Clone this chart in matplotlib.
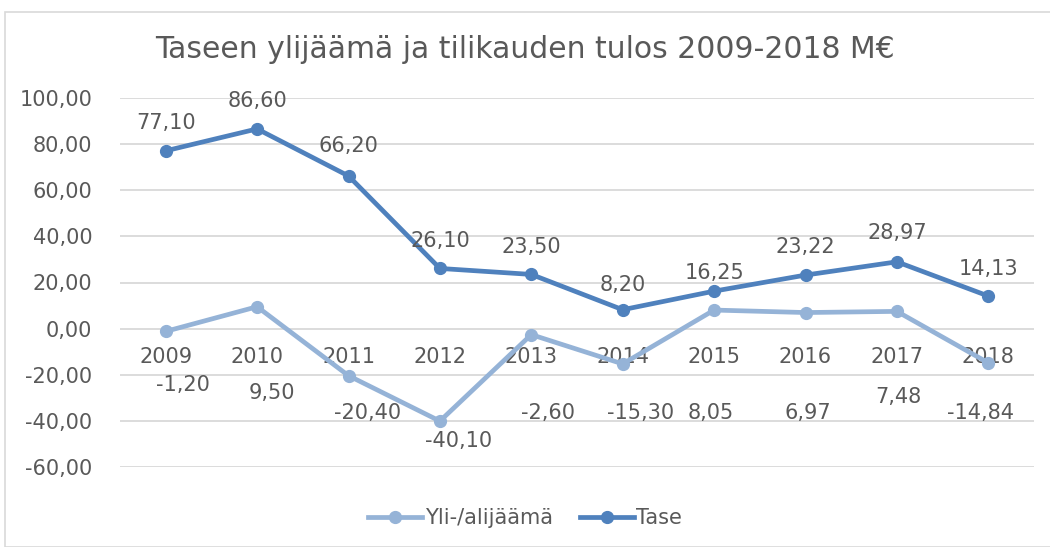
import matplotlib
matplotlib.use("Agg")
import matplotlib.pyplot as plt
from matplotlib.patches import Rectangle

years = ["2009", "2010", "2011", "2012", "2013", "2014", "2015", "2016", "2017", "2018"]
yli = [-1.20, 9.50, -20.40, -40.10, -2.60, -15.30, 8.05, 6.97, 7.48, -14.84]
tase = [77.10, 86.60, 66.20, 26.10, 23.50, 8.20, 16.25, 23.22, 28.97, 14.13]

# label placement (x offset in categories, y in data units), hand-tuned like the original
yli_lbl_dx = [0.19, 0.16, 0.21, 0.20, 0.18, 0.19, -0.04, 0.03, 0.02, -0.08]
yli_lbl_y = [-24.3, -27.8, -36.4, -48.6, -36.4, -36.4, -36.4, -36.4, -29.5, -36.4]
tase_lbl_y = [89.3, 98.9, 79.4, 38.2, 35.6, 19.1, 24.3, 35.6, 41.6, 26.0]

def fmt(v):
    return f"{v:.2f}".replace(".", ",")

txt = "#595959"
light = "#95B3D7"
dark = "#4F81BD"

plt.rcParams["font.family"] = ["DejaVu Sans"]
fig = plt.figure(figsize=(10.5, 5.47), dpi=100)
fig.patches.append(Rectangle((5 / 1050, 0), 1.1, 1 - 12 / 547, transform=fig.transFigure,
                             fill=False, edgecolor="#D9D9D9", linewidth=1.2))
ax = fig.add_axes([120 / 1050, 1 - 467 / 547, 914 / 1050, 369 / 547])

x = range(len(years))
ax.plot(x, yli, color=light, lw=3.4, marker="o", ms=8.5, label="Yli-/alijäämä", zorder=3)
ax.plot(x, tase, color=dark, lw=3.4, marker="o", ms=8.5, label="Tase", zorder=3)

for i, v in enumerate(yli):
    ax.text(i + yli_lbl_dx[i], yli_lbl_y[i], fmt(v), ha="center", va="center", fontsize=15, color=txt, zorder=4)
for i, v in enumerate(tase):
    ax.text(i, tase_lbl_y[i], fmt(v), ha="center", va="center", fontsize=15, color=txt, zorder=4)

ax.set_xlim(-0.5, len(years) - 0.5)
ax.set_ylim(-60, 100)
ax.set_yticks(range(-60, 101, 20))
ax.set_yticklabels([fmt(t) for t in range(-60, 101, 20)])
ax.set_xticks(list(x))
ax.set_xticklabels(years)
ax.spines["bottom"].set_position(("data", 0))
for s in ax.spines.values():
    s.set_visible(False)
ax.tick_params(axis="both", length=0, labelsize=15, labelcolor=txt)
ax.tick_params(axis="y", pad=20)
ax.tick_params(axis="x", pad=13)
ax.grid(axis="y", color="#D9D9D9", lw=1.3)
ax.set_axisbelow(True)

fig.text(0.5, 1 - 50 / 547, "Taseen ylijäämä ja tilikauden tulos 2009-2018 M€", ha="center", va="center",
         fontsize=21.5, color=txt)
fig.legend(loc="center", bbox_to_anchor=(0.5, 1 - 518 / 547), ncol=2, frameon=False, fontsize=15,
           labelcolor=txt, handlelength=2.6, columnspacing=1.3, handletextpad=0.1)

fig.savefig("out.png", dpi=100)
